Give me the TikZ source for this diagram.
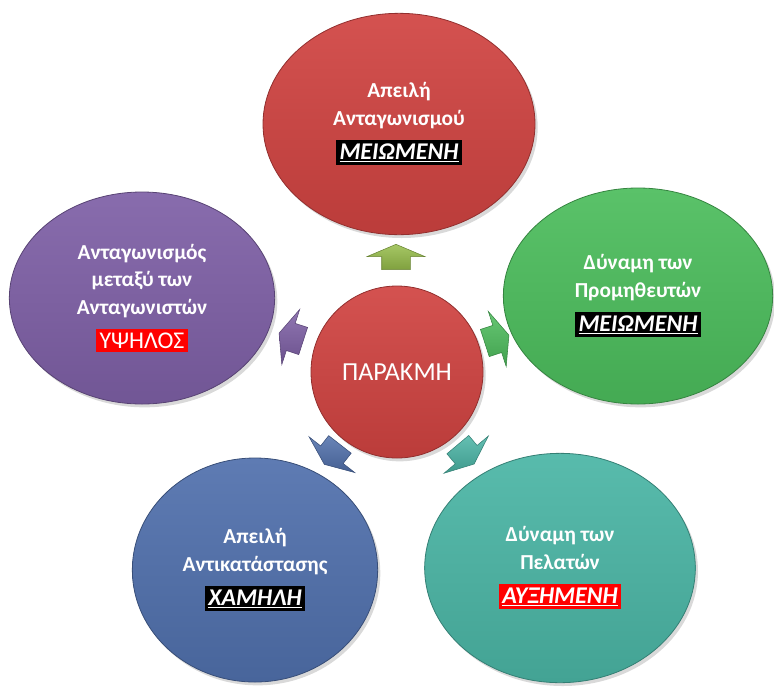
\documentclass[tikz,border=0pt]{standalone}
\usepackage{fontspec}
\setmainfont{Carlito}
\usepackage[HTML]{xcolor}
\usepackage{tikz}
\usetikzlibrary{positioning, shapes.geometric, shapes.arrows, shadows}

\definecolor{redball}{HTML}{D04341}
\definecolor{purpleball}{HTML}{7E5FA6}
\definecolor{greenball}{HTML}{4CBD5C}
\definecolor{blueball}{HTML}{5070AC}
\definecolor{tealball}{HTML}{4AB5A5}
\definecolor{olivearr}{HTML}{96BD4A}

\setlength{\fboxsep}{2.5pt}
\newcommand{\level}[2]{\colorbox{#1}{\fontsize{18}{20}\selectfont\bfseries\itshape\underline{#2}}}

\begin{document}
\begin{tikzpicture}[x=0.75pt, y=-0.75pt,
  ball/.style={ellipse, text=white, align=center, inner sep=0pt,
    top color=#1!92!white, bottom color=#1!90!black, draw=#1!70!black, line width=0.6pt,
    font=\fontsize{16}{20.5}\selectfont\bfseries,
    drop shadow={shadow xshift=2pt, shadow yshift=-2.5pt, opacity=0.3}},
  blockarr/.style={single arrow, inner xsep=0pt, inner ysep=10.5pt, minimum height=19pt,
    single arrow head extend=11pt, single arrow tip angle=134,
    top color=#1!85!white, bottom color=#1!85!black, draw=#1!70!black, line width=0.4pt}]
\useasboundingbox (0,0) rectangle (774,686);

% the five forces
\node[ball=redball, minimum width=204pt, minimum height=166pt] (threat) at (399,124)
  {Απειλή\\Ανταγωνισμού\\[5pt]\level{black}{ΜΕΙΩΜΕΝΗ}};
\node[ball=purpleball, minimum width=199pt, minimum height=159pt] (rivalry) at (142,298)
  {Ανταγωνισμός\\μεταξύ των\\Ανταγωνιστών\\[5pt]\colorbox{red}{\fontsize{18}{20}\selectfont\mdseries ΥΨΗΛΟΣ}};
\node[ball=greenball, minimum width=202pt, minimum height=162pt] (suppliers) at (638,296)
  {Δύναμη των\\Προμηθευτών\\[5pt]\level{black}{ΜΕΙΩΜΕΝΗ}};
\node[ball=blueball, minimum width=184pt, minimum height=168pt] (substitutes) at (255,570)
  {Απειλή\\Αντικατάστασης\\[5pt]\level{black}{ΧΑΜΗΛΗ}};
\node[ball=tealball, minimum width=203pt, minimum height=172pt] (buyers) at (560,568)
  {Δύναμη των\\Πελατών\\[5pt]\level{red}{ΑΥΞΗΜΕΝΗ}};

% centre
\node[ball=redball, circle, minimum size=129pt, font=\fontsize{19.5}{22}\selectfont] (decline) at (397,372) {ΠΑΡΑΚΜΗ};

% arrows out of the centre
\node[blockarr=olivearr, rotate=90] (toThreat) at (396,260) {};
\node[blockarr=greenball, rotate=18] (toSuppliers) at (494,340) {};
\node[blockarr=tealball, rotate=-50] (toBuyers) at (464,452) {};
\node[blockarr=blueball, rotate=-128] (toSubstitutes) at (334,452) {};
\node[blockarr=purpleball, rotate=162] (toRivalry) at (294,338) {};
\end{tikzpicture}
\end{document}
